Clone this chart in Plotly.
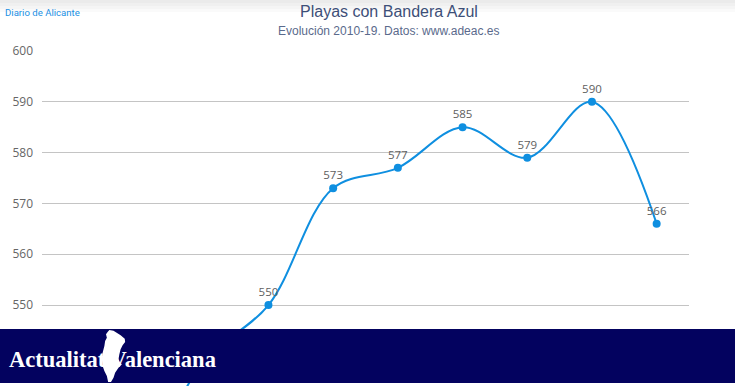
import plotly.graph_objects as go

# ---------------- data ----------------
years = [2010, 2011, 2012, 2013, 2014, 2015, 2016, 2017, 2018, 2019]
playas = [516, 519, 539, 550, 573, 577, 585, 579, 590, 566]
y_ticks = [550, 560, 570, 580, 590, 600]
title_text = "Playas con Bandera Azul"
subtitle_text = "Evolución 2010-19. Datos: www.adeac.es"
source_text = "Diario de Alicante"
banner_text = "Actualitat Valenciana"

# ---------------- layout geometry ----------------
W, H = 735, 386
L, R, T, B = 42, 46, 51, 0
y_range = [534.06, 600]


def px(x):
    return (x - L) / (W - L - R)


def py(y):
    return (H - B - y) / (H - T - B)


line_color = "#0f8fe0"

fig = go.Figure()
fig.add_trace(go.Scatter(
    x=years, y=playas,
    mode="lines+markers+text",
    line=dict(color=line_color, width=2, shape="spline", smoothing=1),
    marker=dict(color=line_color, size=8),
    text=[str(v) for v in playas],
    textposition="top center",
    textfont=dict(family="Open Sans, Arial, sans-serif", size=11.5, color="#606060"),
    hoverinfo="skip",
    cliponaxis=True,
))

shapes = []
# subtle top gradient
for i, c in enumerate(["#ebebeb", "#f0f0f0", "#f5f5f5", "#fafafa"]):
    shapes.append(dict(type="rect", xref="paper", yref="paper",
                       x0=px(0), x1=px(W), y0=py(3 * (i + 1)), y1=py(3 * i),
                       fillcolor=c, line=dict(width=0), layer="below"))

# banner
shapes.append(dict(type="rect", xref="paper", yref="paper",
                   x0=px(0), x1=px(W), y0=py(383), y1=py(329),
                   fillcolor="#03025f", line=dict(width=0), layer="above"))

# silhouette of the Valencian Community in the banner logo (pixel outline)
sil = [(114.7, 330), (118, 330.7), (123.7, 335.3), (127, 338.7), (127.3, 342),
       (125.3, 345.3), (123.7, 349.3), (122.7, 354.3), (122, 359.3), (123, 362.7),
       (124.7, 364.3), (122, 367.7), (119.3, 372.7), (118, 377.7), (116, 382),
       (113.7, 382), (112.7, 376), (110.7, 371), (109.3, 366), (108.7, 359.3),
       (109.3, 352.7), (110.7, 346), (111.3, 341), (112.7, 337.7), (112, 334.3),
       (113.3, 332)]
cx = 116.0
path = "M " + " L ".join(
    f"{px(cx + (a - cx) * 1.25 - 5):.5f},{py(b):.5f}" for a, b in sil) + " Z"
shapes.append(dict(type="path", xref="paper", yref="paper", path=path,
                   fillcolor="white", line=dict(width=0), layer="above"))

annotations = [
    dict(text=title_text, xref="paper", yref="paper", x=px(388.5), y=py(11),
         xanchor="center", yanchor="middle", showarrow=False,
         font=dict(family="Liberation Sans, Arial, sans-serif", size=16, color="#3d4f78")),
    dict(text=subtitle_text, xref="paper", yref="paper", x=px(388.5), y=py(31),
         xanchor="center", yanchor="middle", showarrow=False,
         font=dict(family="Liberation Sans, Arial, sans-serif", size=12, color="#5a6a8c")),
    dict(text=source_text, xref="paper", yref="paper", x=px(3), y=py(12),
         xanchor="left", yanchor="middle", showarrow=False,
         font=dict(family="Roboto, Arial, sans-serif", size=9.6, color="#1a8fe3")),
    dict(text="<b>" + banner_text + "</b>", xref="paper", yref="paper", x=px(7), y=py(359),
         xanchor="left", yanchor="middle", showarrow=False,
         font=dict(family="Liberation Serif, Times New Roman, serif", size=22.5, color="white")),
]

fig.update_layout(
    width=W, height=H,
    margin=dict(l=L, r=R, t=T, b=B, pad=0),
    paper_bgcolor="white", plot_bgcolor="white",
    showlegend=False,
    hovermode=False,
    shapes=shapes,
    annotations=annotations,
    xaxis=dict(range=[2009.5, 2019.5], showticklabels=False, showgrid=False,
               zeroline=False, showline=False, fixedrange=True),
    yaxis=dict(range=y_range, tickvals=y_ticks, showgrid=True, gridcolor="#c4c4c4",
               gridwidth=1, zeroline=False, showline=False, ticks="",
               ticklabelstandoff=8,
               tickfont=dict(family="Open Sans, Arial, sans-serif", size=12, color="#666666"),
               fixedrange=True),
)

fig.write_html(
    "out.html",
    config={"displayModeBar": False},
    post_script="document.body.style.margin='0';document.body.style.padding='0';"
                "document.body.style.overflow='hidden';",
)
